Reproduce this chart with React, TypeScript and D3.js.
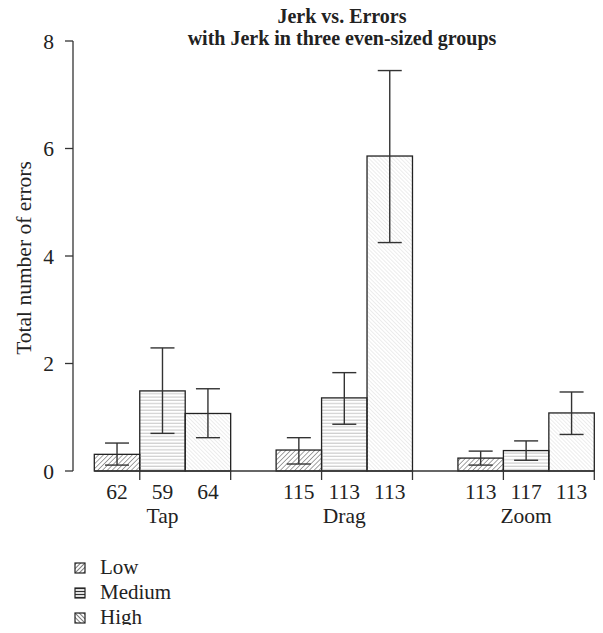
import React, { useEffect, useRef } from 'react';
import * as d3 from 'd3';

const tasks = ['Tap', 'Drag', 'Zoom'];
const jerkGroups = ['Low', 'Medium', 'High'];

// mean errors per task, one array per jerk group
const lowMeans = [0.31, 0.39, 0.24];
const mediumMeans = [1.49, 1.36, 0.38];
const highMeans = [1.07, 5.86, 1.08];

// error bar bounds
const lowLower = [0.11, 0.13, 0.11];
const lowUpper = [0.52, 0.62, 0.37];
const mediumLower = [0.7, 0.87, 0.2];
const mediumUpper = [2.29, 1.83, 0.56];
const highLower = [0.62, 4.25, 0.68];
const highUpper = [1.53, 7.45, 1.47];

// sample sizes under each bar
const lowCounts = [62, 115, 113];
const mediumCounts = [59, 113, 117];
const highCounts = [64, 113, 113];

const yTicks = [0, 2, 4, 6, 8];

const FONT = '"Liberation Serif", "DejaVu Serif", serif';
const FS = '21.5px';

const App = () => {
  const svgRef = useRef<SVGSVGElement>(null);

  useEffect(() => {
    if (!svgRef.current) return;
    const svg = d3.select(svgRef.current);
    svg.selectAll('*').remove();

    const width = 603;
    const height = 633;

    svg.attr('width', width).attr('height', height).style('display', 'block');

    const defs = svg.append('defs');

    // hatch patterns
    const lowPat = defs.append('pattern')
      .attr('id', 'pat-low')
      .attr('patternUnits', 'userSpaceOnUse')
      .attr('width', 3.4).attr('height', 3.4)
      .attr('patternTransform', 'rotate(45)');
    lowPat.append('line')
      .attr('x1', 0).attr('y1', 0).attr('x2', 0).attr('y2', 3.4)
      .attr('stroke', '#555').attr('stroke-width', 1.1);

    const medPat = defs.append('pattern')
      .attr('id', 'pat-medium')
      .attr('patternUnits', 'userSpaceOnUse')
      .attr('width', 4).attr('height', 3.3);
    medPat.append('line')
      .attr('x1', 0).attr('y1', 1).attr('x2', 4).attr('y2', 1)
      .attr('stroke', '#c4c4c4').attr('stroke-width', 1);

    const highPat = defs.append('pattern')
      .attr('id', 'pat-high')
      .attr('patternUnits', 'userSpaceOnUse')
      .attr('width', 2.8).attr('height', 2.8)
      .attr('patternTransform', 'rotate(-45)');
    highPat.append('line')
      .attr('x1', 0).attr('y1', 0).attr('x2', 0).attr('y2', 2.8)
      .attr('stroke', '#d6d6d6').attr('stroke-width', 0.9);

    // legend patterns are denser/darker in the small boxes
    const legLow = defs.append('pattern')
      .attr('id', 'leg-low')
      .attr('patternUnits', 'userSpaceOnUse')
      .attr('width', 3).attr('height', 3)
      .attr('patternTransform', 'rotate(45)');
    legLow.append('line')
      .attr('x1', 0).attr('y1', 0).attr('x2', 0).attr('y2', 3)
      .attr('stroke', '#333').attr('stroke-width', 1.3);
    const legMed = defs.append('pattern')
      .attr('id', 'leg-medium')
      .attr('patternUnits', 'userSpaceOnUse')
      .attr('width', 3).attr('height', 3);
    legMed.append('line')
      .attr('x1', 0).attr('y1', 1.5).attr('x2', 3).attr('y2', 1.5)
      .attr('stroke', '#333').attr('stroke-width', 1.3);
    const legHigh = defs.append('pattern')
      .attr('id', 'leg-high')
      .attr('patternUnits', 'userSpaceOnUse')
      .attr('width', 3).attr('height', 3)
      .attr('patternTransform', 'rotate(-45)');
    legHigh.append('line')
      .attr('x1', 0).attr('y1', 0).attr('x2', 0).attr('y2', 3)
      .attr('stroke', '#333').attr('stroke-width', 1.3);

    // x in bar-width units: one gap then three bars per task
    const x = d3.scaleLinear().domain([0, 12]).range([48.85, 594.3]);
    const y = d3.scaleLinear().domain([0, 8]).range([471, 41]);

    const series = [
      { name: 'Low', means: lowMeans, lo: lowLower, hi: lowUpper, n: lowCounts, fill: 'url(#pat-low)' },
      { name: 'Medium', means: mediumMeans, lo: mediumLower, hi: mediumUpper, n: mediumCounts, fill: 'url(#pat-medium)' },
      { name: 'High', means: highMeans, lo: highLower, hi: highUpper, n: highCounts, fill: 'url(#pat-high)' },
    ];

    const bars = tasks.flatMap((task, ti) =>
      series.map((s, si) => ({
        task,
        start: ti * 4 + 1 + si,
        mean: s.means[ti],
        lo: s.lo[ti],
        hi: s.hi[ti],
        n: s.n[ti],
        fill: s.fill,
      }))
    );

    const g = svg.append('g');

    // bars
    g.selectAll('rect.bar')
      .data(bars)
      .enter().append('rect')
      .attr('class', 'bar')
      .attr('x', d => x(d.start))
      .attr('y', d => y(d.mean))
      .attr('width', d => x(d.start + 1) - x(d.start))
      .attr('height', d => y(0) - y(d.mean))
      .attr('fill', d => d.fill)
      .attr('stroke', '#222')
      .attr('stroke-width', 1.3);

    // error bars
    const err = g.selectAll('g.err')
      .data(bars)
      .enter().append('g')
      .attr('class', 'err')
      .attr('stroke', '#333')
      .attr('stroke-width', 1.4);
    err.append('line')
      .attr('x1', d => x(d.start + 0.5)).attr('x2', d => x(d.start + 0.5))
      .attr('y1', d => y(d.lo)).attr('y2', d => y(d.hi));
    err.append('line')
      .attr('x1', d => x(d.start + 0.5) - 12).attr('x2', d => x(d.start + 0.5) + 12)
      .attr('y1', d => y(d.hi)).attr('y2', d => y(d.hi));
    err.append('line')
      .attr('x1', d => x(d.start + 0.5) - 12).attr('x2', d => x(d.start + 0.5) + 12)
      .attr('y1', d => y(d.lo)).attr('y2', d => y(d.lo));

    // x axis line and ticks
    g.append('line')
      .attr('x1', x(1)).attr('x2', x(12))
      .attr('y1', y(0)).attr('y2', y(0))
      .attr('stroke', '#333').attr('stroke-width', 1.3);
    const xTickUnits = tasks.flatMap((_, ti) => [ti * 4 + 2, ti * 4 + 4]);
    g.selectAll('line.xtick')
      .data(xTickUnits)
      .enter().append('line')
      .attr('class', 'xtick')
      .attr('x1', d => x(d)).attr('x2', d => x(d))
      .attr('y1', y(0)).attr('y2', y(0) + 9)
      .attr('stroke', '#333').attr('stroke-width', 1.3);

    // counts
    g.selectAll('text.count')
      .data(bars)
      .enter().append('text')
      .attr('class', 'count')
      .attr('x', d => x(d.start + 0.5))
      .attr('y', 499)
      .attr('text-anchor', 'middle')
      .style('font-family', FONT)
      .style('font-size', FS)
      .style('fill', '#222')
      .text(d => d.n);

    // task labels
    g.selectAll('text.task')
      .data(tasks)
      .enter().append('text')
      .attr('class', 'task')
      .attr('x', (_, i) => x(i * 4 + 2.5))
      .attr('y', 523)
      .attr('text-anchor', 'middle')
      .style('font-family', FONT)
      .style('font-size', FS)
      .style('fill', '#222')
      .text(d => d);

    // y axis
    g.append('line')
      .attr('x1', 73).attr('x2', 73)
      .attr('y1', y(0)).attr('y2', y(8))
      .attr('stroke', '#333').attr('stroke-width', 1.3);
    const yt = g.selectAll('g.ytick')
      .data(yTicks)
      .enter().append('g')
      .attr('class', 'ytick')
      .attr('transform', d => `translate(0,${y(d)})`);
    yt.append('line')
      .attr('x1', 65).attr('x2', 73)
      .attr('stroke', '#333').attr('stroke-width', 1.3);
    yt.append('text')
      .attr('x', 54)
      .attr('dy', '0.35em')
      .attr('text-anchor', 'end')
      .style('font-family', FONT)
      .style('font-size', FS)
      .style('fill', '#222')
      .text(d => d);

    g.append('text')
      .attr('transform', `translate(31,258) rotate(-90)`)
      .attr('text-anchor', 'middle')
      .style('font-family', FONT)
      .style('font-size', '21.5px')
      .style('fill', '#222')
      .text('Total number of errors');

    // title
    const title = g.append('text')
      .attr('text-anchor', 'middle')
      .style('font-family', FONT)
      .style('font-size', '20px')
      .style('font-weight', 'bold')
      .style('fill', '#222');
    title.append('tspan').attr('x', 342).attr('y', 23).text('Jerk vs. Errors');
    title.append('tspan').attr('x', 342).attr('y', 45).text('with Jerk in three even-sized groups');

    // legend
    const legendFills = ['url(#leg-low)', 'url(#leg-medium)', 'url(#leg-high)'];
    const leg = g.selectAll('g.legend')
      .data(jerkGroups)
      .enter().append('g')
      .attr('class', 'legend')
      .attr('transform', (_, i) => `translate(75,${568 + i * 25})`);
    leg.append('rect')
      .attr('x', 0).attr('y', -5)
      .attr('width', 10).attr('height', 10)
      .attr('fill', (_, i) => legendFills[i])
      .attr('stroke', '#222').attr('stroke-width', 1.2);
    leg.append('text')
      .attr('x', 25)
      .attr('y', 6)
      .style('font-family', FONT)
      .style('font-size', '21px')
      .style('fill', '#222')
      .text(d => d);
  }, []);

  return (
    <div style={{ margin: -8 }}>
      <svg ref={svgRef}></svg>
    </div>
  );
};

export default App;
